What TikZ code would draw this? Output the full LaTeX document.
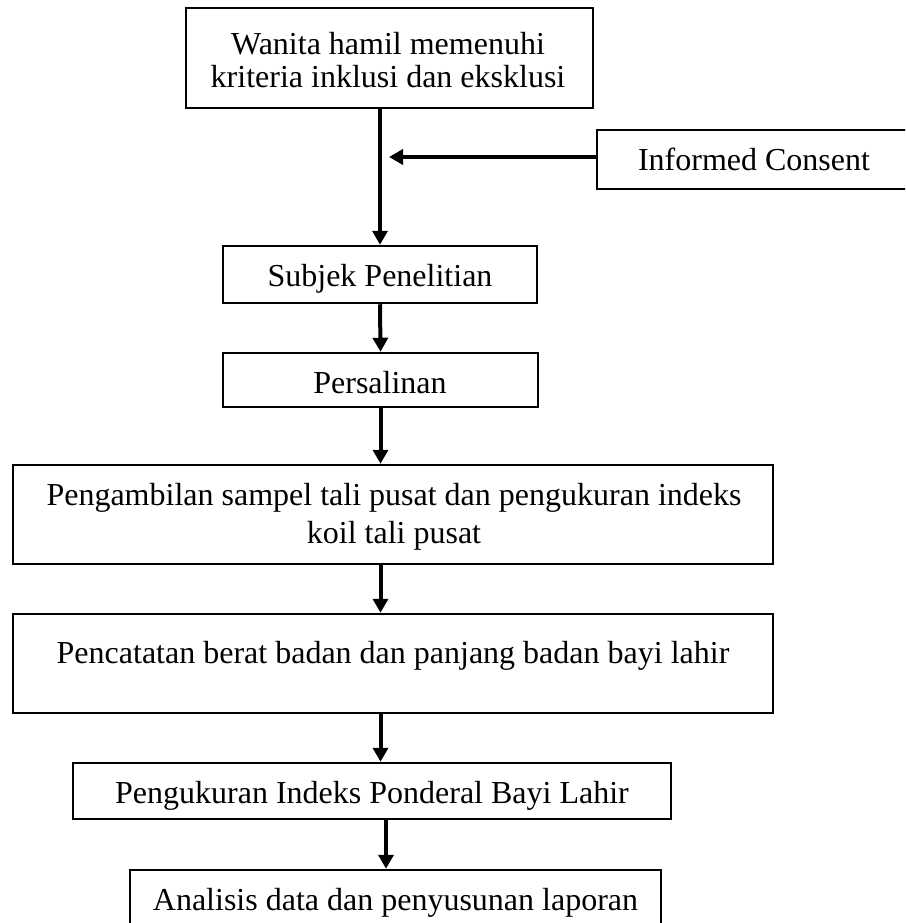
\documentclass[tikz,border=0pt]{standalone}
\usepackage{fontspec}
\setmainfont{Liberation Serif}
\usetikzlibrary{arrows.meta}
\begin{document}
\begin{tikzpicture}[x=1pt,y=-1pt,
  box/.style={draw, line width=2.5pt, rectangle, inner sep=0pt},
  lbl/.style={anchor=base, inner sep=0pt, font=\fontsize{32}{34}\selectfont},
  arr/.style={line width=4pt, -{Triangle[width=15pt,length=14pt]}}]
\useasboundingbox (0,0) rectangle (905,923);
\clip (0,0) rectangle (905,923);
% boxes
\node[box, minimum width=407pt, minimum height=100pt] (b1) at (389.5,58) {};
\node[box, minimum width=328pt, minimum height=59pt] (ic) at (761,159.5) {};
\node[box, minimum width=314pt, minimum height=57pt] (subj) at (380,274.5) {};
\node[box, minimum width=315pt, minimum height=54pt] (pers) at (380.5,380) {};
\node[box, minimum width=760pt, minimum height=99pt] (peng) at (393,514.5) {};
\node[box, minimum width=760pt, minimum height=99pt] (penc) at (393,663.5) {};
\node[box, minimum width=598pt, minimum height=56pt] (pengk) at (372,791) {};
\node[box, minimum width=531pt, minimum height=66pt] (anl) at (395.5,903) {};
% labels
\node[lbl] (b1a) at (388,55) {Wanita hamil memenuhi};
\node[lbl] (b1b) at (388,88) {kriteria inklusi dan eksklusi};
\node[lbl] (ict) at (754,170) {Informed Consent};
\node[lbl] (subjt) at (380,286) {Subjek Penelitian};
\node[lbl] (perst) at (380,393) {Persalinan};
\node[lbl] (penga) at (394,505) {Pengambilan sampel tali pusat dan pengukuran indeks};
\node[lbl] (pengb) at (394,543) {koil tali pusat};
\node[lbl] (penct) at (393,663) {Pencatatan berat badan dan panjang badan bayi lahir};
\node[lbl] (pengkt) at (372,803) {Pengukuran Indeks Ponderal Bayi Lahir};
\node[lbl] (anlt) at (395.5,910) {Analisis data dan penyusunan laporan};
% connectors
\coordinate (icTip) at (389,157);
\coordinate (ax) at (386,0);
\draw[arr] (b1.south -| subj.center) -- (subj.north);
\draw[arr] (ic.west |- icTip) -- (icTip);
\draw[arr] (subj.south) -- (pers.north);
\draw[arr] (pers.south) -- (pers.south |- peng.north);
\draw[arr] (peng.south -| pers.south) -- (penc.north -| pers.south);
\draw[arr] (penc.south -| pers.south) -- (pengk.north -| pers.south);
\draw[arr] (pengk.south -| ax) -- (anl.north -| ax);
\end{tikzpicture}
\end{document}
